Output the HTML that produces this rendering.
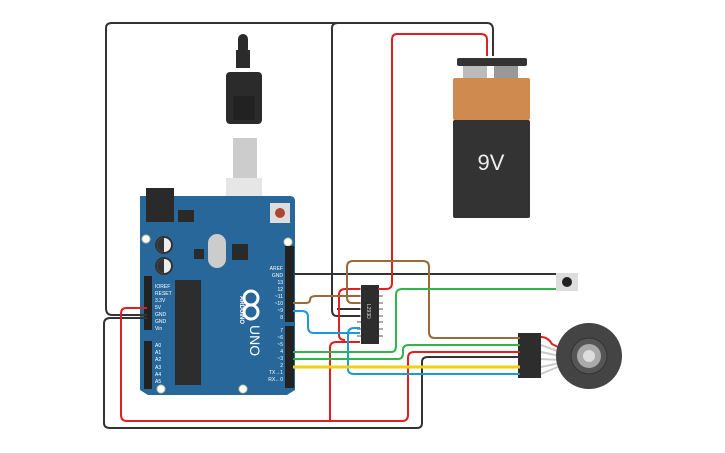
<!DOCTYPE html>
<html><head><style>html,body{margin:0;padding:0;background:#fff;width:725px;height:453px;overflow:hidden}</style></head><body>
<svg width="725" height="453" viewBox="0 0 725 453" xmlns="http://www.w3.org/2000/svg" font-family="Liberation Sans, sans-serif">
<rect x="238" y="34" width="10" height="20" rx="5" fill="#2b2b2b"/>
<rect x="236" y="50" width="14" height="18" fill="#2b2b2b"/>
<rect x="226" y="72" width="36" height="52" rx="4" fill="#2b2b2b"/>
<rect x="233" y="96" width="22" height="24" fill="#222"/>
<rect x="233" y="138" width="24" height="40" fill="#ccc"/>
<rect x="226" y="178" width="36" height="46" fill="#e6e6e6"/>
<path d="M140 196 H290 Q295 196 295 201 V390 L287 395 H148 L140 390 Z" fill="#27679a"/>
<rect x="146" y="188" width="28" height="34" fill="#2a2a2a"/>
<rect x="178" y="210" width="16" height="12" fill="#2a2a2a"/>
<rect x="270" y="203" width="20" height="20" fill="#ddd"/>
<circle cx="280" cy="213" r="5" fill="#b0452f"/>
<circle cx="164" cy="245" r="9" fill="#333"/><circle cx="164" cy="245" r="7" fill="#eee"/><path d="M164 238 A7 7 0 0 0 164 252Z" fill="#333"/>
<circle cx="164" cy="266" r="9" fill="#333"/><circle cx="164" cy="266" r="7" fill="#eee"/><path d="M164 259 A7 7 0 0 0 164 273Z" fill="#333"/>
<rect x="208" y="234" width="18" height="34" rx="9" fill="#ccc"/>
<rect x="232" y="244" width="16" height="16" fill="#2a2a2a"/>
<rect x="194" y="249" width="10" height="10" fill="#2a2a2a"/>
<circle cx="146" cy="239" r="4" fill="#fff" stroke="#cc9"/><circle cx="288" cy="242" r="4" fill="#fff" stroke="#cc9"/>
<circle cx="161" cy="389" r="4" fill="#fff" stroke="#cc9"/><circle cx="243" cy="389" r="4" fill="#fff" stroke="#cc9"/>
<rect x="175" y="280" width="26" height="105" fill="#2d2d2d"/>
<rect x="144" y="276" width="8" height="54" fill="#222"/>
<rect x="144" y="341" width="8" height="48" fill="#222"/>
<rect x="285" y="246" width="9" height="76" fill="#222"/>
<rect x="285" y="326" width="9" height="62" fill="#222"/>
<g fill="#fff" font-size="5">
<text x="155" y="288">IOREF</text><text x="155" y="295">RESET</text><text x="155" y="302">3.3V</text><text x="155" y="309">5V</text><text x="155" y="316">GND</text><text x="155" y="323">GND</text><text x="155" y="330">Vin</text>
<text x="155" y="347">A0</text><text x="155" y="354">A1</text><text x="155" y="361">A2</text><text x="155" y="369">A3</text><text x="155" y="376">A4</text><text x="155" y="383">A5</text>
<g text-anchor="end"><text x="283" y="270">AREF</text><text x="283" y="277">GND</text><text x="283" y="284">13</text><text x="283" y="291">12</text><text x="283" y="298">~11</text><text x="283" y="305">~10</text><text x="283" y="312">~9</text><text x="283" y="319">8</text>
<text x="283" y="332">7</text><text x="283" y="339">~6</text><text x="283" y="346">~5</text><text x="283" y="353">4</text><text x="283" y="360">~3</text><text x="283" y="367">2</text><text x="283" y="374">TX→1</text><text x="283" y="381">RX←0</text></g>
</g>
<text x="0" y="0" fill="#fff" font-size="14" transform="translate(250,325) rotate(90)">UNO</text>
<text x="0" y="0" fill="#fff" font-size="6" font-weight="bold" transform="translate(240,296) rotate(90)">ARDUINO</text>
<circle cx="251" cy="298" r="7" fill="none" stroke="#fff" stroke-width="3"/><circle cx="251" cy="312" r="7" fill="none" stroke="#fff" stroke-width="3"/>
<rect x="457" y="58" width="70" height="8" rx="2" fill="#333"/>
<rect x="463" y="66" width="24" height="12" fill="#bbb"/><rect x="494" y="66" width="24" height="12" fill="#999"/>
<rect x="453" y="78" width="77" height="42" rx="2" fill="#cf8b4f"/>
<rect x="453" y="120" width="77" height="98" rx="2" fill="#333"/>
<text x="491" y="170" fill="#eee" font-size="22" text-anchor="middle">9V</text>
<g fill="#aaa"><rect x="357" y="288" width="4" height="2"/><rect x="357" y="295" width="4" height="2"/><rect x="357" y="302" width="4" height="2"/><rect x="357" y="308" width="4" height="2"/><rect x="357" y="315" width="4" height="2"/><rect x="357" y="321" width="4" height="2"/><rect x="357" y="328" width="4" height="2"/><rect x="357" y="335" width="4" height="2"/>
<rect x="379" y="288" width="4" height="2"/><rect x="379" y="295" width="4" height="2"/><rect x="379" y="302" width="4" height="2"/><rect x="379" y="308" width="4" height="2"/><rect x="379" y="315" width="4" height="2"/><rect x="379" y="321" width="4" height="2"/><rect x="379" y="328" width="4" height="2"/><rect x="379" y="335" width="4" height="2"/></g>
<rect x="361" y="285" width="18" height="59" fill="#2d2d2d"/>
<text x="0" y="0" fill="#ddd" font-size="5" transform="translate(367,304) rotate(90)">L293D</text>
<rect x="556" y="273" width="22" height="18" fill="#ddd"/><circle cx="567" cy="282" r="5" fill="#222"/>
<g stroke="#ccc" stroke-width="2" fill="none"><path d="M541 345 L560 352"/><path d="M541 352 L560 356"/><path d="M541 359 L560 360"/><path d="M541 367 L560 363"/><path d="M541 374 L560 366"/></g>
<path d="M541 337 Q548 337 552 344 L560 348" stroke="#e02020" stroke-width="2" fill="none"/>
<circle cx="589" cy="356" r="33" fill="#444"/>
<circle cx="589" cy="356" r="18" fill="#555" stroke="#333"/>
<circle cx="589" cy="356" r="12" fill="#aaa"/><circle cx="589" cy="356" r="6" fill="#ddd"/>
<rect x="518" y="333" width="23" height="45" fill="#2d2d2d"/>
<g fill="none" stroke-width="2" stroke-linejoin="round">
<path d="M147 315 H112 Q106 315 106 308 V28 Q106 23 112 23 H487 Q493 23 493 30 V56" stroke="#333"/>
<path d="M360 316 H337 Q332 316 332 310 V28 Q332 23 338 23" stroke="#333"/>
<path d="M360 309 H337" stroke="#333"/>
<path d="M147 318 H110 Q104 318 104 324 V423 Q104 428 110 428 H417 Q422 428 422 423 V362 Q422 357 428 357 H520" stroke="#333"/>
<path d="M293 274 H556" stroke="#333"/>
<path d="M487 56 V40 Q487 34 481 34 H397 Q392 34 392 40 V283 Q392 289 386 289 H378" stroke="#e02020"/>
<path d="M147 308 H126 Q121 308 121 314 V415 Q121 421 127 421 H402 Q408 421 408 415 V358 Q408 352 414 352 H520" stroke="#e02020"/>
<path d="M330 421 V348 Q330 342 336 342 H360" stroke="#e02020"/>
<path d="M360 289 H345 Q339 289 339 295 V335 Q339 340 345 340" stroke="#e02020"/>
<path d="M293 303 H305 Q310 303 310 300 Q310 296 316 296 H360" stroke="#9a6a3c"/>
<path d="M360 303 H352 Q347 303 347 297 V267 Q347 261 353 261 H423 Q429 261 429 267 V332 Q429 338 435 338 H520" stroke="#9a6a3c"/>
<path d="M293 311 H302 Q308 311 308 317 V327 Q308 333 314 333 H360" stroke="#1a9ad6"/>
<path d="M360 328 H354 Q348 328 348 334 V369 Q348 374 354 374 H520" stroke="#1a9ad6"/>
<path d="M293 352 H391 Q396 352 396 346 V295 Q396 289 402 289 H556" stroke="#2fb54a"/>
<path d="M293 359 H398 Q403 359 403 353 V350 Q403 345 409 345 H520" stroke="#2fb54a"/>
<path d="M293 367 H520" stroke="#f0d010" stroke-width="3"/>
</g>
</svg>
</body></html>
